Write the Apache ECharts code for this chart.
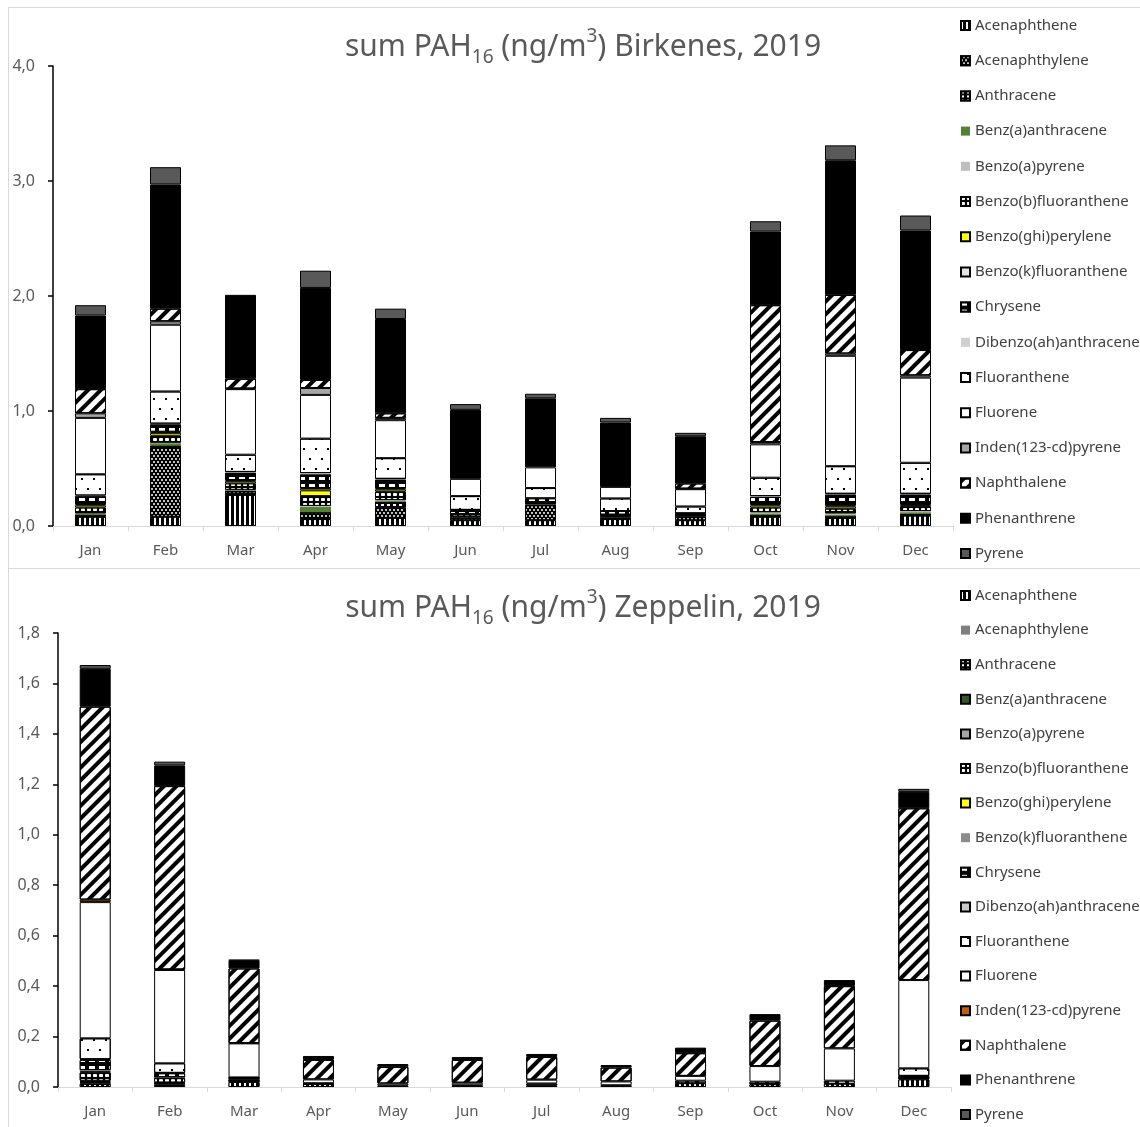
<!DOCTYPE html>
<html>
<head>
<meta charset="utf-8">
<script src="https://cdn.jsdelivr.net/npm/echarts@6/dist/echarts.min.js"></script>
<style>
html, body { margin: 0; padding: 0; background: #fff; overflow: hidden; }
.box { position: absolute; left: 8px; width: 1150px; border: 1px solid #d9d9d9; box-sizing: border-box; }
#boxTop { top: 7px; height: 562px; }
#boxBottom { top: 568px; height: 570px; }
.chart { width: 100%; height: 100%; }
</style>
</head>
<body>
<div class="box" id="boxTop"><div class="chart" id="chartTop"></div></div>
<div class="box" id="boxBottom"><div class="chart" id="chartBottom"></div></div>
<script>
const months = ['Jan', 'Feb', 'Mar', 'Apr', 'May', 'Jun', 'Jul', 'Aug', 'Sep', 'Oct', 'Nov', 'Dec']
const compounds = ['Acenaphthene', 'Acenaphthylene', 'Anthracene', 'Benz(a)anthracene', 'Benzo(a)pyrene',
  'Benzo(b)fluoranthene', 'Benzo(ghi)perylene', 'Benzo(k)fluoranthene', 'Chrysene', 'Dibenzo(ah)anthracene',
  'Fluoranthene', 'Fluorene', 'Inden(123-cd)pyrene', 'Naphthalene', 'Phenanthrene', 'Pyrene']
const topTicks = [0, 4, 1]
const bottomTicks = [0, 1.8, 0.2]

// Birkenes 2019, ng/m3
const birkAcenaphthene = [0.08, 0.08, 0.27, 0.06, 0.07, 0.05, 0.05, 0.06, 0.05, 0.08, 0.07, 0.09]
const birkAcenaphthylene = [0.01, 0.6, 0.03, 0.055, 0.09, 0.02, 0.13, 0.01, 0.03, 0.01, 0.01, 0.01]
const birkAnthracene = [0.005, 0.02, 0.005, 0.005, 0.05, 0.005, 0.005, 0.005, 0.005, 0.005, 0.005, 0.005]
const birkBaA = [0.01, 0.02, 0.005, 0.045, 0.01, 0.003, 0.003, 0.003, 0.003, 0.015, 0.015, 0.015]
const birkBaP = [0.005, 0.005, 0.005, 0.01, 0.005, 0.002, 0.002, 0.002, 0.002, 0.01, 0.01, 0.01]
const birkBbF = [0.05, 0.06, 0.055, 0.085, 0.075, 0.02, 0.01, 0.015, 0.005, 0.04, 0.04, 0.04]
const birkBghiP = [0.02, 0.025, 0.02, 0.05, 0.02, 0.003, 0.003, 0.003, 0.002, 0.02, 0.02, 0.01]
const birkBkF = [0.01, 0.01, 0.01, 0.02, 0.01, 0.002, 0.002, 0.002, 0.003, 0.01, 0.01, 0.01]
const birkChrysene = [0.07, 0.065, 0.065, 0.12, 0.075, 0.035, 0.035, 0.03, 0.01, 0.065, 0.095, 0.085]
const birkDBahA = [0.005, 0.005, 0.005, 0.01, 0.005, 0, 0, 0, 0, 0.005, 0.005, 0.005]
const birkFluoranthene = [0.185, 0.28, 0.15, 0.3, 0.18, 0.12, 0.09, 0.11, 0.06, 0.16, 0.24, 0.27]
const birkFluorene = [0.49, 0.58, 0.57, 0.38, 0.33, 0.15, 0.18, 0.1, 0.15, 0.29, 0.96, 0.74]
const birkIP = [0.04, 0.03, 0.005, 0.06, 0.02, 0, 0, 0, 0.005, 0.02, 0.02, 0.02]
const birkNaphthalene = [0.21, 0.11, 0.085, 0.07, 0.04, 0, 0, 0, 0.045, 1.19, 0.51, 0.22]
const birkPhenanthrene = [0.64, 1.08, 0.73, 0.8, 0.82, 0.6, 0.6, 0.56, 0.41, 0.64, 1.17, 1.04]
const birkPyrene = [0.09, 0.15, 0, 0.15, 0.09, 0.05, 0.04, 0.04, 0.03, 0.09, 0.13, 0.13]

// Zeppelin 2019, ng/m3
const zepAcenaphthene = [0.012, 0.008, 0.02, 0.012, 0.006, 0.007, 0.006, 0.007, 0.015, 0.011, 0.013, 0.03]
const zepAcenaphthylene = [0.003, 0.003, 0.002, 0, 0, 0, 0, 0, 0, 0, 0, 0]
const zepAnthracene = [0.003, 0.003, 0.002, 0, 0, 0, 0, 0, 0, 0, 0, 0]
const zepBaA = [0.004, 0.002, 0.001, 0, 0, 0, 0, 0, 0, 0, 0, 0]
const zepBaP = [0.003, 0.002, 0.001, 0, 0, 0, 0, 0, 0, 0, 0, 0]
const zepBbF = [0.033, 0.017, 0.004, 0, 0, 0, 0, 0, 0, 0, 0, 0]
const zepBghiP = [0.005, 0.002, 0.001, 0, 0, 0, 0, 0, 0, 0, 0, 0]
const zepBkF = [0.004, 0.002, 0.001, 0, 0, 0, 0, 0, 0, 0, 0, 0]
const zepChrysene = [0.04, 0.015, 0.003, 0.003, 0, 0, 0, 0, 0.01, 0.01, 0.012, 0.014]
const zepDBahA = [0.003, 0.002, 0.001, 0, 0, 0, 0, 0, 0, 0, 0, 0]
const zepFluoranthene = [0.083, 0.038, 0.002, 0, 0, 0, 0.008, 0, 0, 0, 0, 0.03]
const zepFluorene = [0.54, 0.37, 0.135, 0.015, 0.008, 0.01, 0.015, 0.015, 0.019, 0.062, 0.128, 0.35]
const zepIP = [0.01, 0.002, 0.001, 0, 0, 0, 0, 0, 0, 0, 0, 0]
const zepNaphthalene = [0.765, 0.727, 0.296, 0.077, 0.066, 0.09, 0.09, 0.055, 0.09, 0.18, 0.247, 0.681]
const zepPhenanthrene = [0.15, 0.082, 0.032, 0.016, 0.011, 0.012, 0.012, 0.01, 0.022, 0.026, 0.024, 0.065]
const zepPyrene = [0.015, 0.015, 0.002, 0, 0, 0, 0, 0, 0, 0, 0, 0.012]

const birkenesData = [birkAcenaphthene, birkAcenaphthylene, birkAnthracene, birkBaA, birkBaP, birkBbF,
  birkBghiP, birkBkF, birkChrysene, birkDBahA, birkFluoranthene, birkFluorene, birkIP, birkNaphthalene,
  birkPhenanthrene, birkPyrene]
const zeppelinData = [zepAcenaphthene, zepAcenaphthylene, zepAnthracene, zepBaA, zepBaP, zepBbF,
  zepBghiP, zepBkF, zepChrysene, zepDBahA, zepFluoranthene, zepFluorene, zepIP, zepNaphthalene,
  zepPhenanthrene, zepPyrene]

// fill patterns
const vStripes = { symbol: 'rect', symbolSize: 1, symbolKeepAspect: false, color: '#fff', dashArrayX: [2, 3], dashArrayY: [1, 0] }
const whiteDots = { symbol: 'circle', symbolSize: 1, color: '#fff', dashArrayX: [[2, 2], [0, 2, 2, 0]], dashArrayY: [2, 1] }
const whiteMarks = { symbol: 'rect', symbolSize: 1, symbolKeepAspect: false, color: '#fff', dashArrayX: [3, 3], dashArrayY: [2, 2] }
const rings = { symbol: 'roundRect', symbolSize: 1, symbolKeepAspect: false, color: '#fff', dashArrayX: [4, 2], dashArrayY: [3, 2] }
const dashes = { symbol: 'rect', symbolSize: 1, symbolKeepAspect: false, color: '#fff', dashArrayX: [6, 4], dashArrayY: [3, 4] }
const blackDots = { symbol: 'rect', symbolSize: 1, color: '#000', dashArrayX: [[2, 10], [0, 6, 2, 4]], dashArrayY: [2, 8] }
const diag = { symbol: 'rect', symbolSize: 1, symbolKeepAspect: false, color: '#000', dashArrayX: [1, 0], dashArrayY: [4, 5], rotation: -Math.PI / 4 }

const topStyles = [
  { color: '#000', decal: vStripes },
  { color: '#000', decal: whiteDots },
  { color: '#000', decal: whiteMarks },
  { color: '#548235', border: 0 },
  { color: '#bfbfbf', border: 0 },
  { color: '#000', decal: rings },
  { color: '#ffff00' },
  { color: '#e4e4e4' },
  { color: '#000', decal: dashes },
  { color: '#d0d0d0', border: 0 },
  { color: '#fff', decal: blackDots },
  { color: '#fff' },
  { color: '#a6a6a6' },
  { color: '#fff', decal: diag },
  { color: '#000' },
  { color: '#595959' }
]
const bottomStyles = [
  { color: '#000', decal: vStripes },
  { color: '#7f7f7f', border: 0 },
  { color: '#000', decal: whiteMarks },
  { color: '#375623' },
  { color: '#a6a6a6' },
  { color: '#000', decal: rings },
  { color: '#ffff00' },
  { color: '#8c8c8c', border: 0 },
  { color: '#000', decal: dashes },
  { color: '#c8c8c8' },
  { color: '#fff', decal: blackDots },
  { color: '#fff' },
  { color: '#c55a11' },
  { color: '#fff', decal: diag },
  { color: '#000' },
  { color: '#595959' }
]

const font = '"Noto Sans", sans-serif'
const fmt = v => v.toFixed(1).replace('.', ',')

function buildOption (site, data, styles, ticks, grid, legendTop, legendGap) {
  return {
    animation: false,
    textStyle: { fontFamily: font },
    title: {
      left: 'center',
      top: 19,
      padding: 0,
      text: '{a|sum PAH}{sub|16}{a| (ng/m}{sup|3}{a|) ' + site + ', 2019}',
      textStyle: {
        rich: {
          a: { fontSize: 30, color: '#595959', fontFamily: font, fontWeight: 'normal', lineHeight: 40 },
          sub: { fontSize: 19, color: '#595959', fontFamily: font, fontWeight: 'normal', lineHeight: 19, verticalAlign: 'bottom' },
          sup: { fontSize: 19, color: '#595959', fontFamily: font, fontWeight: 'normal', lineHeight: 19, verticalAlign: 'top' }
        }
      }
    },
    legend: {
      orient: 'vertical',
      left: 951,
      top: legendTop,
      padding: 0,
      icon: 'rect',
      itemWidth: 9,
      itemHeight: 9,
      itemGap: legendGap,
      selectedMode: false,
      textStyle: { fontSize: 15, color: '#404040', fontFamily: font, lineHeight: 15 },
      data: compounds
    },
    grid: grid,
    xAxis: {
      type: 'category',
      data: months,
      axisLine: { lineStyle: { color: '#d9d9d9', width: 1 } },
      axisTick: { show: true, length: 5, lineStyle: { color: '#d9d9d9' } },
      axisLabel: { fontSize: 15, color: '#595959', margin: 17, fontFamily: font }
    },
    yAxis: {
      type: 'value',
      min: ticks[0],
      max: ticks[1],
      interval: ticks[2],
      splitLine: { show: false },
      axisLine: { show: true, lineStyle: { color: '#000', width: 1.5 } },
      axisTick: { show: true, length: 5, lineStyle: { color: '#000', width: 1.5 } },
      axisLabel: { fontSize: 16, color: '#595959', margin: 18, formatter: fmt, fontFamily: font }
    },
    series: compounds.map((name, i) => {
      const itemStyle = {
        color: styles[i].color,
        borderColor: '#000',
        borderWidth: styles[i].border === 0 ? 0 : 1
      }
      if (styles[i].decal) itemStyle.decal = styles[i].decal
      return {
        name: name,
        type: 'bar',
        stack: 'pah',
        barWidth: 31,
        emphasis: { disabled: true },
        itemStyle: itemStyle,
        data: data[i].map(v => (v === 0 ? '-' : v))
      }
    })
  }
}

const topChart = echarts.init(document.getElementById('chartTop'))
topChart.setOption(buildOption('Birkenes', birkenesData, topStyles, topTicks,
  { left: 44, top: 58, width: 900, height: 460 }, 10, 20.2))

const bottomChart = echarts.init(document.getElementById('chartBottom'))
bottomChart.setOption(buildOption('Zeppelin', zeppelinData, bottomStyles, bottomTicks,
  { left: 49, top: 64, width: 893, height: 454 }, 19, 19.6))
</script>
</body>
</html>
